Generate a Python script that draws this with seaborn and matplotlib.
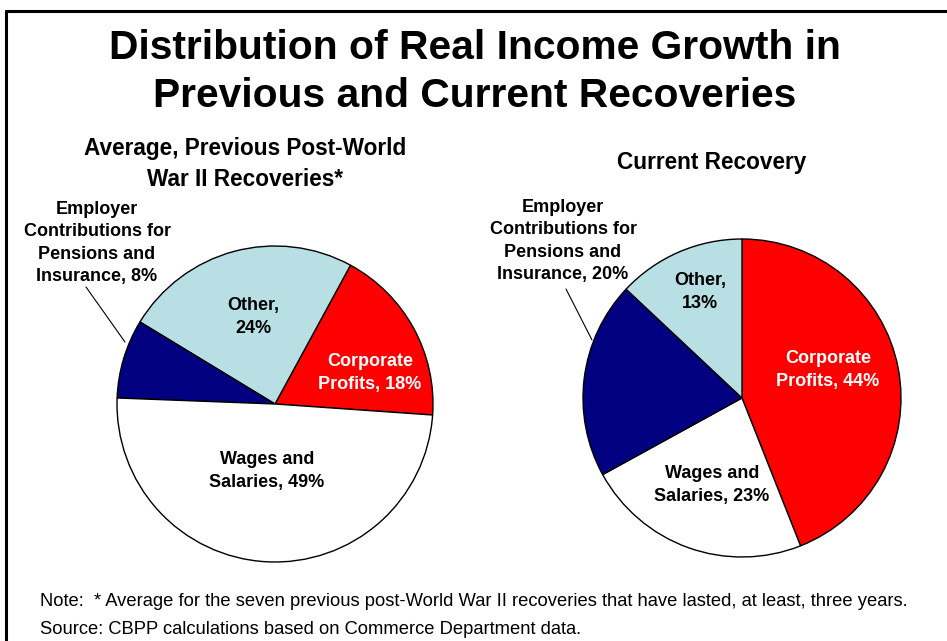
import matplotlib
matplotlib.use("Agg")
import matplotlib.pyplot as plt
import seaborn as sns
from matplotlib.lines import Line2D

sns.set_theme(style="white")
plt.rcParams['font.family'] = ['Liberation Sans', 'DejaVu Sans']
plt.rcParams['text.color'] = 'black'

# ---- data ----
categories = ["Corporate Profits", "Other", "Employer Contributions for Pensions and Insurance", "Wages and Salaries"]
previous_values = [18, 24, 8, 49]
current_values = [44, 13, 20, 23]
colors = {"Corporate Profits": "#FF0000", "Other": "#B8DFE3",
          "Employer Contributions for Pensions and Insurance": "#000080",
          "Wages and Salaries": "#FFFFFF"}

W, H = 947, 641
fig = plt.figure(figsize=(W / 100, H / 100), dpi=100)
fig.patch.set_facecolor("white")

def fx(x): return x / W
def fy(y): return 1 - y / H

def pie_axes(cx, cy, r):
    ax = fig.add_axes([fx(cx - r), fy(cy + r), 2 * r / W, 2 * r / H])
    ax.axis("off")
    return ax

def fix(ax):
    ax.set_xlim(-1, 1); ax.set_ylim(-1, 1)
    ax.set_aspect("equal")

wedge = dict(edgecolor="black", linewidth=1.0)

# left pie: counter-clockwise from slightly below horizontal
ax1 = pie_axes(275, 404, 158)
ax1.pie(previous_values, colors=[colors[c] for c in categories], startangle=-4,
        counterclock=True, radius=1, wedgeprops=wedge, normalize=True)
fix(ax1)

# right pie: clockwise from top
order_r = [0, 3, 2, 1]
ax2 = pie_axes(742, 398, 159)
ax2.pie([current_values[i] for i in order_r], colors=[colors[categories[i]] for i in order_r],
        startangle=90, counterclock=False, radius=1, wedgeprops=wedge, normalize=True)
fix(ax2)

# ---- texts ----
fig.text(fx(475), fy(72), "Distribution of Real Income Growth in\nPrevious and Current Recoveries",
         ha="center", va="center", fontsize=29.3, fontweight="bold", linespacing=1.33)
fig.text(fx(245), fy(164), "Average, Previous Post-World\nWar II Recoveries*",
         ha="center", va="center", fontsize=16.3, fontweight="bold", linespacing=1.45)
fig.text(fx(712), fy(163), "Current Recovery", ha="center", va="center",
         fontsize=16.3, fontweight="bold")

lab = dict(ha="center", va="center", fontsize=13, fontweight="bold", linespacing=1.4)
fig.text(fx(97), fy(243), "Employer\nContributions for\nPensions and\nInsurance, 8%", **lab)
fig.text(fx(253), fy(317), "Other,\n24%", **lab)
fig.text(fx(370), fy(373), "Corporate\nProfits, 18%", color="white", **lab)
fig.text(fx(267), fy(471), "Wages and\nSalaries, 49%", **lab)

fig.text(fx(563), fy(241), "Employer\nContributions for\nPensions and\nInsurance, 20%", **lab)
fig.text(fx(700), fy(292), "Other,\n13%", **lab)
fig.text(fx(828), fy(370), "Corporate\nProfits, 44%", color="white", **lab)
fig.text(fx(712), fy(485), "Wages and\nSalaries, 23%", **lab)

# leader lines
fig.add_artist(Line2D([fx(86), fx(125)], [fy(287), fy(342)], color="black", lw=0.8))
fig.add_artist(Line2D([fx(566), fx(592)], [fy(289), fy(340)], color="black", lw=0.8))

fig.text(fx(40), fy(602), "Note:  * Average for the seven previous post-World War II recoveries that have lasted, at least, three years.",
         ha="left", va="center", fontsize=13.2)
fig.text(fx(40), fy(629), "Source: CBPP calculations based on Commerce Department data.",
         ha="left", va="center", fontsize=13.2)

# frame
fig.add_artist(Line2D([fx(6), fx(6)], [fy(11), 0], color="black", lw=2.2))
fig.add_artist(Line2D([fx(6), 1], [fy(11), fy(11)], color="black", lw=2.2))

fig.savefig("out.png", dpi=100, facecolor="white")
